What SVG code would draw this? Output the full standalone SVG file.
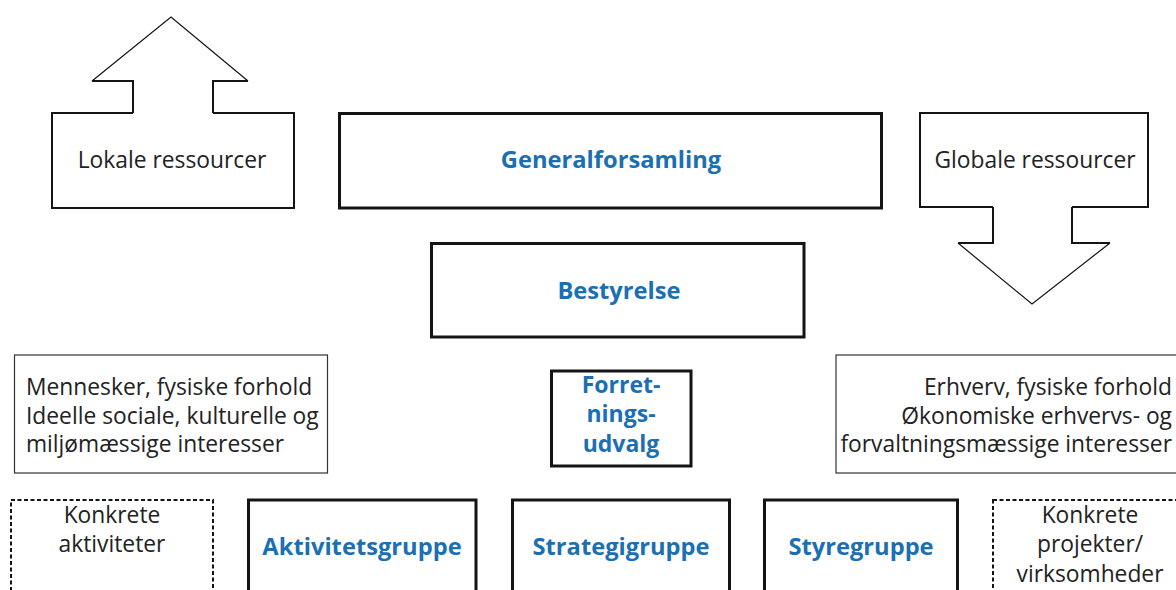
<svg xmlns="http://www.w3.org/2000/svg" width="1176" height="590" viewBox="0 0 1176 590">
<style>
.thick{fill:#fff;stroke:#141414;stroke-width:3}
.med{fill:#fff;stroke:#141414;stroke-width:2}
.thin{fill:#fff;stroke:#333;stroke-width:1.2}
.dash{fill:#fff;stroke:#141414;stroke-width:2;stroke-dasharray:4 2.5}
.head{fill:none;stroke:#141414;stroke-width:1.2}
.lbl{font-family:"Open Sans","Noto Sans",sans-serif;font-size:22.8px;fill:#222}
.b{font-family:"Open Sans","Noto Sans",sans-serif;font-size:23.7px;font-weight:bold;fill:#1b6fb3}
.s{font-size:23px}
.c{text-anchor:middle}
.r{text-anchor:end}
</style>
<rect width="1176" height="590" fill="#fff"/>
<g id="connectors">
<g id="arrow-up">
<path class="head" d="M92,81 L171,17 L248,81"/>
<path class="med" d="M92,81 L133,81 L133,113 M213,113 L213,81 L248,81"/>
</g>
<g id="arrow-down">
<path class="head" d="M958,243 L1032,304 L1110,243"/>
<path class="med" d="M958,243 L993,243 L993,207 M1072,207 L1072,243 L1110,243"/>
</g>
</g>
<g id="lokale">
<path class="med" d="M133,113 L52,113 L52,208 L294,208 L294,113 L213,113"/>
<text class="lbl c" x="172" y="168">Lokale ressourcer</text>
</g>
<g id="globale">
<path class="med" d="M993,207 L920,207 L920,113 L1148,113 L1148,207 L1072,207"/>
<text class="lbl c" x="1035" y="168">Globale ressourcer</text>
</g>
<g id="generalforsamling">
<rect class="thick" x="339.5" y="113.5" width="542" height="94.5"/>
<text class="b c" x="611" y="168">Generalforsamling</text>
</g>
<g id="bestyrelse">
<rect class="thick" x="431.5" y="243.5" width="372.5" height="93.5"/>
<text class="b c" x="619" y="299">Bestyrelse</text>
</g>
<g id="mennesker">
<rect class="thin" x="14.5" y="355" width="313" height="118"/>
<text class="lbl" x="26" y="395">Mennesker, fysiske forhold</text>
<text class="lbl" x="26" y="423.5">Ideelle sociale, kulturelle og</text>
<text class="lbl" x="26" y="452">miljømæssige interesser</text>
</g>
<g id="forretningsudvalg">
<rect class="thick" x="551.5" y="371" width="139.5" height="95"/>
<text class="b s c" x="621" y="393">Forret-</text>
<text class="b s c" x="621" y="422">nings-</text>
<text class="b s c" x="621" y="452">udvalg</text>
</g>
<g id="erhverv">
<rect class="thin" x="836" y="355" width="360" height="118"/>
<text class="lbl r" x="1172" y="395">Erhverv, fysiske forhold</text>
<text class="lbl r" x="1172" y="423.5">Økonomiske erhvervs- og</text>
<text class="lbl r" x="1172" y="452">forvaltningsmæssige interesser</text>
</g>
<g id="konkrete-aktiviteter">
<rect class="dash" x="11" y="500" width="202" height="110"/>
<text class="lbl c" x="112" y="523">Konkrete</text>
<text class="lbl c" x="112" y="552">aktiviteter</text>
</g>
<g id="aktivitetsgruppe">
<rect class="thick" x="248.5" y="500" width="227.5" height="110"/>
<text class="b c" x="362" y="555">Aktivitetsgruppe</text>
</g>
<g id="strategigruppe">
<rect class="thick" x="512.5" y="500" width="217" height="110"/>
<text class="b c" x="621" y="555">Strategigruppe</text>
</g>
<g id="styregruppe">
<rect class="thick" x="764.5" y="500" width="193" height="110"/>
<text class="b c" x="861" y="555">Styregruppe</text>
</g>
<g id="konkrete-projekter">
<rect class="dash" x="993" y="500" width="194" height="110"/>
<text class="lbl c" x="1090" y="523">Konkrete</text>
<text class="lbl c" x="1090" y="552">projekter/</text>
<text class="lbl c" x="1090" y="582">virksomheder</text>
</g>
</svg>
